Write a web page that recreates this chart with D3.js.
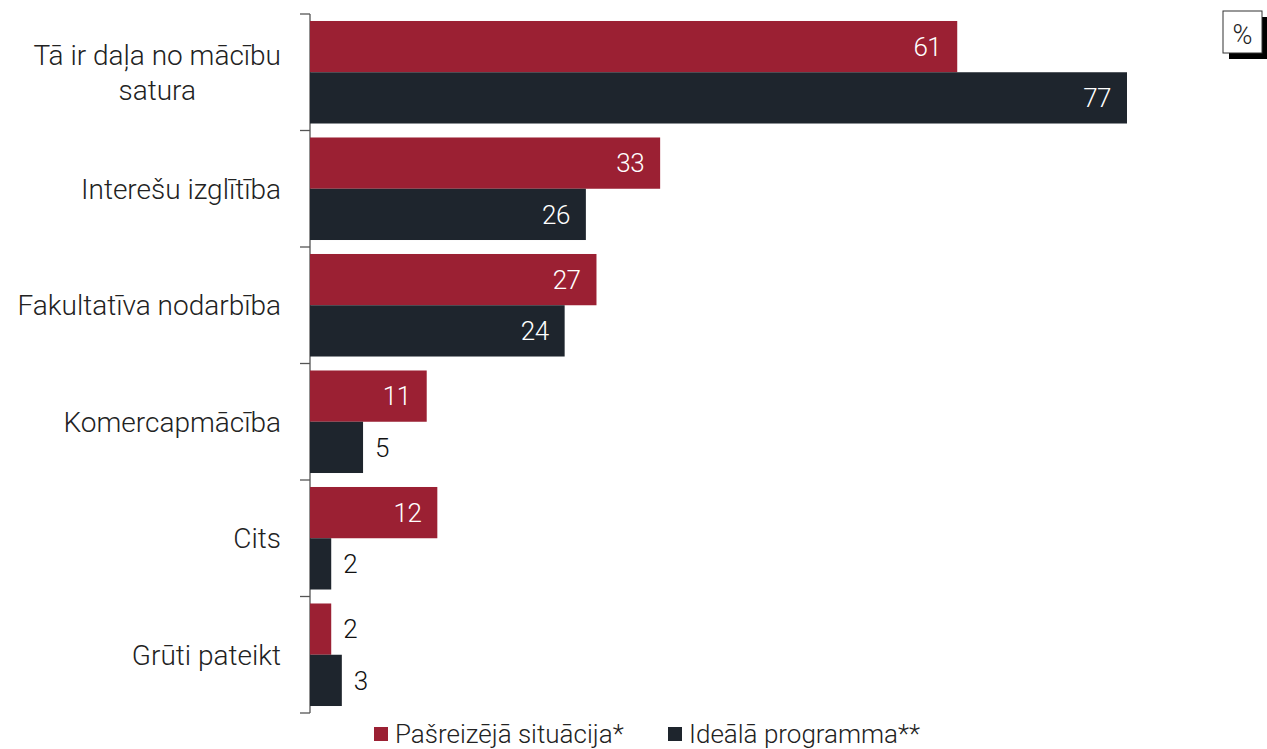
<!DOCTYPE html>
<html>
<head>
<meta charset="utf-8">
<script src="https://cdn.jsdelivr.net/npm/d3@7"></script>
<style>
  body { margin: 0; background: #fff; }
  svg { font-family: Roboto, "Noto Sans", sans-serif; font-weight: 300; }
</style>
</head>
<body>
<svg id="chart" width="1267" height="749"></svg>
<script>
// data
var categories = ["Tā ir daļa no mācību satura", "Interešu izglītība", "Fakultatīva nodarbība", "Komercapmācība", "Cits", "Grūti pateikt"]
var categoryLines = [["Tā ir daļa no mācību", "satura"], ["Interešu izglītība"], ["Fakultatīva nodarbība"], ["Komercapmācība"], ["Cits"], ["Grūti pateikt"]]
var seriesNames = ["Pašreizējā situācija*", "Ideālā programma**"]
var current = [61, 33, 27, 11, 12, 2]
var ideal = [77, 26, 24, 5, 2, 3]
var colors = ["#9b2033", "#1e252d"]

var dimensions = {
  width: 1267,
  height: 749,
  margin: { top: 14, bottom: 36, left: 310, right: 140 }
}

var data = categories.map((c, i) => ({ cat: c, lines: categoryLines[i], values: [current[i], ideal[i]] }))

var svg = d3.select("#chart")

var yScale = d3.scaleBand()
  .domain(categories)
  .range([dimensions.margin.top, dimensions.height - dimensions.margin.bottom])
  .paddingInner(0.12)
  .paddingOuter(0.06)

var xScale = d3.scaleLinear()
  .domain([0, 77])
  .range([dimensions.margin.left, 1127])

var sub = d3.scaleBand()
  .domain([0, 1])
  .range([0, yScale.bandwidth()])

// axis line + ticks between categories
var axisX = dimensions.margin.left
var bounds = d3.range(categories.length + 1).map(i => dimensions.margin.top + i * (dimensions.height - dimensions.margin.bottom - dimensions.margin.top) / categories.length)
var axis = svg.append("g").attr("stroke", "#555").attr("stroke-width", 1.3)
axis.append("line").attr("x1", axisX).attr("x2", axisX).attr("y1", bounds[0]).attr("y2", bounds[bounds.length - 1])
axis.selectAll(".tick").data(bounds).enter().append("line")
  .attr("x1", axisX - 10).attr("x2", axisX).attr("y1", d => d).attr("y2", d => d)

// bars
var groups = svg.selectAll(".grp").data(data).enter().append("g")
  .attr("transform", d => `translate(0,${yScale(d.cat)})`)

groups.selectAll("rect").data(d => d.values).enter().append("rect")
  .attr("x", xScale(0))
  .attr("y", (d, i) => sub(i))
  .attr("width", d => xScale(d) - xScale(0))
  .attr("height", sub.bandwidth())
  .attr("fill", (d, i) => colors[i])

groups.selectAll(".val").data(d => d.values).enter().append("text")
  .attr("x", d => d >= 10 ? xScale(d) - 16 : xScale(d) + 12)
  .attr("y", (d, i) => sub(i) + sub.bandwidth() / 2)
  .attr("dy", "0.36em")
  .attr("text-anchor", d => d >= 10 ? "end" : "start")
  .attr("fill", d => d >= 10 ? "#fff" : "#111")
  .style("font-size", "26px")
  .style("letter-spacing", "-0.5px")
  .text(d => d)

// category labels (block right aligned, lines centred within the block)
var labels = svg.selectAll(".lab").data(data).enter().append("text")
  .attr("y", d => yScale(d.cat) + yScale.bandwidth() / 2)
  .attr("text-anchor", "middle")
  .attr("fill", "#222")
  .style("font-size", "28px")
labels.selectAll("tspan").data(d => d.lines.map((l, i) => ({ l: l, i: i, n: d.lines.length }))).enter().append("tspan")
  .attr("dy", d => d.i === 0 ? (0.36 - (d.n - 1) * 0.63) + "em" : "1.26em")
  .text(d => d.l)
labels.each(function () {
  var spans = d3.select(this).selectAll("tspan")
  var w = d3.max(spans.nodes(), n => n.getComputedTextLength())
  spans.attr("x", 281 - w / 2)
})

// legend
var legendX = [374, 668]
var legend = svg.selectAll(".leg").data(seriesNames).enter().append("g")
  .attr("transform", (d, i) => `translate(${legendX[i]},727)`)
legend.append("rect").attr("width", 14).attr("height", 14).attr("fill", (d, i) => colors[i])
legend.append("text").attr("x", 21).attr("y", 7).attr("dy", "0.34em")
  .attr("fill", "#222").style("font-size", "26px").text(d => d)

// % box
var box = svg.append("g").attr("transform", "translate(1223,11)")
box.append("rect").attr("x", 6).attr("y", 6).attr("width", 39).attr("height", 42).attr("fill", "#000")
box.append("rect").attr("width", 39).attr("height", 42).attr("fill", "#fff").attr("stroke", "#333").attr("stroke-width", 1)
box.append("text").attr("x", 19.5).attr("y", 23).attr("dy", "0.36em").attr("text-anchor", "middle")
  .attr("fill", "#222").style("font-size", "27px").text("%")
</script>
</body>
</html>
